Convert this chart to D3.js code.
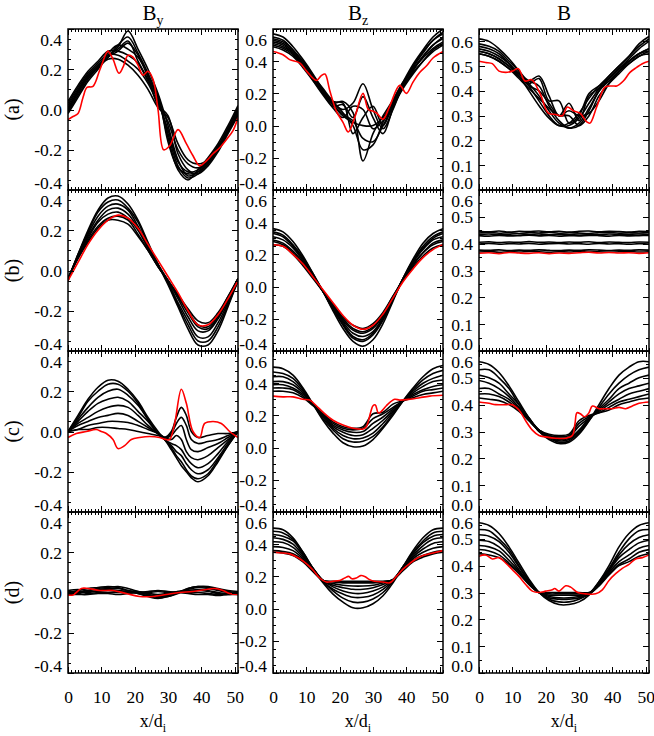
<!DOCTYPE html>
<html>
<head>
<meta charset="utf-8">
<script src="https://cdn.jsdelivr.net/npm/d3@7"></script>
<style>
  body { margin: 0; background: #fff; }
  svg text { font-family: "Liberation Serif", "Times New Roman", serif; fill: #000; }
</style>
</head>
<body>
<svg id="chart" width="654" height="736"></svg>
<script>
// x positions (in d_i) of the sampled profiles
var xGrid  = [0, 3, 6, 9, 12, 15, 18, 21, 24, 27, 30, 33, 36, 39, 42, 45, 48, 51];
var xGridC = [0, 3, 6, 9, 12, 15, 18, 21, 24, 27, 29, 31, 32.5, 34, 35.5, 37, 39, 42, 45, 48, 51];

var xTicks  = [0, 10, 20, 30, 40, 50];
var byTicks = [-0.4, -0.2, 0.0, 0.2, 0.4];
var bzTicks = [-0.4, -0.2, 0.0, 0.2, 0.4, 0.6];
var bTicks  = [0.0, 0.1, 0.2, 0.3, 0.4, 0.5, 0.6];

var colTitles = ["B", "B", "B"];
var colSubs   = ["y", "z", ""];
var rowLabels = ["(a)", "(b)", "(c)", "(d)"];

// ---- row (a) ----
var byA = [
  [0.02, 0.10, 0.17, 0.22, 0.26, 0.31, 0.39, 0.30, 0.20, 0.08, -0.08, -0.25, -0.33, -0.31, -0.26, -0.19, -0.10, 0.00],
  [0.00, 0.08, 0.16, 0.21, 0.26, 0.32, 0.36, 0.28, 0.18, 0.06, -0.12, -0.28, -0.34, -0.32, -0.27, -0.20, -0.11, -0.02],
  [0.03, 0.11, 0.18, 0.23, 0.28, 0.32, 0.30, 0.26, 0.17, 0.04, -0.10, -0.26, -0.31, -0.30, -0.25, -0.18, -0.09, 0.01],
  [-0.01, 0.07, 0.15, 0.21, 0.27, 0.27, 0.24, 0.20, 0.13, 0.03, -0.06, -0.20, -0.27, -0.29, -0.26, -0.20, -0.11, -0.03],
  [0.01, 0.09, 0.16, 0.21, 0.25, 0.25, 0.22, 0.17, 0.10, 0.01, -0.04, -0.17, -0.25, -0.27, -0.25, -0.19, -0.10, -0.01],
  [-0.02, 0.06, 0.14, 0.20, 0.26, 0.29, 0.33, 0.27, 0.16, 0.02, -0.03, -0.22, -0.30, -0.32, -0.28, -0.21, -0.12, -0.03],
  [0.04, 0.12, 0.19, 0.24, 0.29, 0.29, 0.27, 0.23, 0.14, 0.05, -0.14, -0.30, -0.35, -0.30, -0.24, -0.17, -0.08, 0.02],
  [0.00, 0.09, 0.17, 0.22, 0.27, 0.30, 0.34, 0.24, 0.15, 0.07, -0.16, -0.29, -0.32, -0.31, -0.27, -0.20, -0.10, -0.01]
];
var byARed = [[0, -0.05], [1.5, -0.035], [3, -0.02], [4.5, 0.06], [5.7, 0.11], [7.5, 0.115], [9.5, 0.195],
  [11.5, 0.28], [12, 0.29], [13.5, 0.25], [15.3, 0.18], [16.5, 0.21], [18, 0.27], [19.5, 0.26], [21, 0.22],
  [22.5, 0.17], [24, 0.19], [25.5, 0.15], [27, 0.0], [28.7, -0.2], [30.5, -0.18], [33, -0.1], [35.5, -0.17],
  [37.5, -0.23], [39.5, -0.28], [41.5, -0.255], [43.5, -0.22], [45.5, -0.19], [47.5, -0.15], [49.5, -0.105], [51, -0.04]];

var bzA = [
  [0.57, 0.55, 0.49, 0.41, 0.32, 0.22, 0.13, 0.06, 0.02, 0.00, 0.00, 0.05, 0.15, 0.27, 0.38, 0.47, 0.55, 0.60],
  [0.55, 0.53, 0.47, 0.40, 0.31, 0.22, 0.14, 0.10, 0.14, 0.26, 0.10, -0.02, 0.10, 0.25, 0.36, 0.45, 0.53, 0.58],
  [0.53, 0.51, 0.46, 0.39, 0.31, 0.23, 0.15, 0.08, 0.00, -0.15, -0.12, 0.02, 0.14, 0.26, 0.35, 0.43, 0.50, 0.55],
  [0.51, 0.49, 0.45, 0.38, 0.30, 0.22, 0.14, 0.15, 0.08, -0.22, -0.05, 0.06, 0.16, 0.27, 0.35, 0.42, 0.48, 0.52],
  [0.50, 0.48, 0.44, 0.37, 0.29, 0.21, 0.15, 0.14, -0.05, 0.05, 0.12, 0.00, 0.13, 0.24, 0.33, 0.40, 0.46, 0.50],
  [0.54, 0.52, 0.47, 0.38, 0.28, 0.19, 0.11, 0.05, 0.12, 0.10, -0.02, 0.03, 0.12, 0.25, 0.37, 0.46, 0.53, 0.57],
  [0.52, 0.50, 0.45, 0.37, 0.29, 0.20, 0.12, 0.13, 0.05, 0.18, 0.05, -0.05, 0.11, 0.24, 0.34, 0.43, 0.50, 0.54],
  [0.49, 0.47, 0.43, 0.36, 0.28, 0.20, 0.13, 0.07, 0.03, -0.08, -0.10, 0.00, 0.12, 0.23, 0.32, 0.40, 0.47, 0.51]
];
var bzARed = [[0, 0.46], [3, 0.44], [5, 0.41], [8, 0.39], [10, 0.34], [13, 0.28], [14.5, 0.31], [15.6, 0.32],
  [17, 0.22], [19, 0.09], [21, 0.02], [22.6, -0.04], [24.5, 0.05], [27, 0.2], [28.6, 0.1], [30, 0.09], [31, 0.08],
  [33, 0.04], [35, 0.12], [38, 0.25], [40, 0.2], [42, 0.27], [44, 0.33], [46, 0.37], [48, 0.42], [51, 0.46]];

var bA = [
  [0.61, 0.60, 0.57, 0.53, 0.48, 0.42, 0.36, 0.30, 0.26, 0.26, 0.29, 0.35, 0.41, 0.46, 0.50, 0.54, 0.59, 0.62],
  [0.59, 0.58, 0.56, 0.52, 0.48, 0.43, 0.38, 0.32, 0.27, 0.25, 0.27, 0.33, 0.40, 0.45, 0.49, 0.53, 0.57, 0.60],
  [0.57, 0.56, 0.54, 0.51, 0.47, 0.44, 0.46, 0.38, 0.30, 0.35, 0.28, 0.38, 0.41, 0.44, 0.48, 0.52, 0.55, 0.57],
  [0.56, 0.55, 0.53, 0.50, 0.46, 0.43, 0.45, 0.36, 0.36, 0.27, 0.30, 0.39, 0.42, 0.45, 0.49, 0.52, 0.55, 0.56],
  [0.55, 0.54, 0.52, 0.49, 0.45, 0.41, 0.37, 0.33, 0.30, 0.30, 0.26, 0.30, 0.38, 0.43, 0.47, 0.51, 0.54, 0.55],
  [0.58, 0.57, 0.55, 0.51, 0.46, 0.40, 0.34, 0.29, 0.26, 0.27, 0.31, 0.37, 0.42, 0.46, 0.50, 0.54, 0.58, 0.61],
  [0.55, 0.54, 0.52, 0.49, 0.46, 0.42, 0.40, 0.35, 0.30, 0.32, 0.30, 0.31, 0.36, 0.43, 0.48, 0.52, 0.55, 0.57],
  [0.56, 0.55, 0.53, 0.50, 0.47, 0.44, 0.42, 0.34, 0.28, 0.25, 0.26, 0.32, 0.40, 0.44, 0.48, 0.51, 0.54, 0.56]
];
var bARed = [[0, 0.52], [2, 0.515], [4, 0.51], [6, 0.48], [8, 0.475], [10, 0.48], [11.8, 0.49], [13.8, 0.44],
  [15.8, 0.445], [18.3, 0.39], [20.8, 0.31], [23, 0.305], [25, 0.3], [26.5, 0.335], [28.3, 0.32], [30.3, 0.31],
  [32.3, 0.275], [33.3, 0.27], [35.3, 0.335], [37.8, 0.415], [40, 0.42], [41.3, 0.42], [43.3, 0.44], [45.3, 0.475],
  [47.3, 0.495], [49, 0.51], [51, 0.52]];

// ---- row (b) ----
var byB = [
  [-0.05, 0.08, 0.20, 0.30, 0.36, 0.37, 0.33, 0.25, 0.14, 0.03, -0.07, -0.18, -0.29, -0.37, -0.37, -0.30, -0.18, -0.05],
  [-0.05, 0.08, 0.19, 0.29, 0.34, 0.35, 0.31, 0.24, 0.13, 0.03, -0.06, -0.17, -0.27, -0.35, -0.35, -0.28, -0.17, -0.05],
  [-0.04, 0.07, 0.18, 0.27, 0.32, 0.33, 0.30, 0.22, 0.12, 0.03, -0.06, -0.16, -0.25, -0.33, -0.33, -0.26, -0.16, -0.05],
  [-0.04, 0.07, 0.17, 0.25, 0.30, 0.31, 0.28, 0.21, 0.12, 0.03, -0.05, -0.14, -0.23, -0.30, -0.30, -0.24, -0.15, -0.05],
  [-0.04, 0.07, 0.16, 0.24, 0.28, 0.29, 0.26, 0.20, 0.11, 0.02, -0.05, -0.13, -0.21, -0.28, -0.29, -0.23, -0.14, -0.04],
  [-0.04, 0.06, 0.15, 0.22, 0.26, 0.27, 0.25, 0.18, 0.10, 0.02, -0.05, -0.12, -0.20, -0.27, -0.28, -0.22, -0.13, -0.04],
  [-0.04, 0.06, 0.14, 0.21, 0.25, 0.25, 0.23, 0.17, 0.10, 0.02, -0.05, -0.12, -0.19, -0.25, -0.26, -0.21, -0.13, -0.04]
];
var byBRed = [[0, -0.05], [3, 0.04], [6, 0.13], [9, 0.2], [12, 0.25], [15, 0.275], [18, 0.26], [21, 0.21], [24, 0.13],
  [27, 0.05], [30, -0.03], [33, -0.11], [36, -0.2], [39, -0.27], [42, -0.27], [45, -0.22], [48, -0.14], [51, -0.05]];

var bzB = [
  [0.36, 0.34, 0.28, 0.19, 0.08, -0.03, -0.15, -0.26, -0.34, -0.37, -0.33, -0.23, -0.09, 0.05, 0.17, 0.27, 0.33, 0.36],
  [0.34, 0.32, 0.26, 0.18, 0.08, -0.03, -0.14, -0.24, -0.32, -0.34, -0.30, -0.21, -0.08, 0.05, 0.16, 0.25, 0.31, 0.34],
  [0.33, 0.31, 0.25, 0.17, 0.07, -0.03, -0.14, -0.23, -0.31, -0.33, -0.29, -0.20, -0.08, 0.05, 0.16, 0.24, 0.30, 0.33],
  [0.31, 0.29, 0.24, 0.16, 0.07, -0.03, -0.13, -0.22, -0.29, -0.31, -0.28, -0.19, -0.07, 0.05, 0.15, 0.23, 0.29, 0.31],
  [0.29, 0.27, 0.22, 0.15, 0.06, -0.03, -0.12, -0.21, -0.27, -0.29, -0.26, -0.18, -0.07, 0.04, 0.14, 0.21, 0.27, 0.29],
  [0.28, 0.26, 0.21, 0.14, 0.06, -0.03, -0.12, -0.20, -0.26, -0.28, -0.25, -0.17, -0.06, 0.04, 0.13, 0.21, 0.26, 0.28],
  [0.26, 0.25, 0.20, 0.13, 0.05, -0.03, -0.11, -0.19, -0.24, -0.26, -0.23, -0.16, -0.06, 0.04, 0.12, 0.19, 0.24, 0.26]
];
var bzBRed = [[0, 0.26], [3, 0.25], [6, 0.2], [9, 0.14], [12, 0.06], [15, -0.02], [18, -0.1], [21, -0.18], [24, -0.24],
  [27, -0.265], [30, -0.24], [33, -0.17], [36, -0.07], [39, 0.03], [42, 0.11], [45, 0.18], [48, 0.23], [51, 0.26]];

var bB = [
  [0.446, 0.444, 0.447, 0.443, 0.446, 0.445, 0.447, 0.444, 0.446, 0.443, 0.446, 0.447, 0.444, 0.446, 0.445, 0.443, 0.446, 0.445],
  [0.440, 0.442, 0.439, 0.441, 0.438, 0.441, 0.440, 0.442, 0.439, 0.441, 0.440, 0.438, 0.441, 0.442, 0.439, 0.441, 0.440, 0.441],
  [0.434, 0.436, 0.433, 0.435, 0.437, 0.434, 0.436, 0.433, 0.435, 0.434, 0.436, 0.435, 0.433, 0.436, 0.434, 0.435, 0.436, 0.434],
  [0.430, 0.428, 0.431, 0.429, 0.430, 0.432, 0.429, 0.431, 0.428, 0.430, 0.429, 0.431, 0.430, 0.428, 0.431, 0.429, 0.430, 0.431],
  [0.405, 0.407, 0.404, 0.406, 0.405, 0.408, 0.405, 0.406, 0.404, 0.406, 0.405, 0.407, 0.404, 0.406, 0.405, 0.404, 0.406, 0.405],
  [0.399, 0.401, 0.398, 0.400, 0.399, 0.401, 0.398, 0.400, 0.401, 0.399, 0.400, 0.398, 0.401, 0.399, 0.400, 0.398, 0.400, 0.399],
  [0.376, 0.375, 0.377, 0.374, 0.376, 0.375, 0.377, 0.375, 0.374, 0.376, 0.375, 0.377, 0.376, 0.374, 0.376, 0.375, 0.377, 0.376],
  [0.369, 0.371, 0.368, 0.370, 0.369, 0.371, 0.370, 0.368, 0.370, 0.369, 0.371, 0.369, 0.370, 0.368, 0.370, 0.371, 0.369, 0.370]
];
var bBRed = [[0, 0.364], [3, 0.366], [6, 0.363], [9, 0.367], [12, 0.365], [15, 0.364], [18, 0.366], [21, 0.363], [24, 0.365],
  [27, 0.364], [30, 0.366], [33, 0.368], [36, 0.365], [39, 0.367], [42, 0.365], [45, 0.366], [48, 0.364], [51, 0.366]];

// ---- row (c) ----  (By on the finer xGridC)
var byC = [
  [0.00, 0.08, 0.16, 0.22, 0.255, 0.25, 0.21, 0.15, 0.07, 0.00, -0.04, -0.09, -0.13, -0.17, -0.20, -0.23, -0.25, -0.22, -0.15, -0.07, 0.00],
  [0.00, 0.07, 0.15, 0.20, 0.235, 0.235, 0.20, 0.14, 0.06, -0.01, -0.04, -0.08, -0.12, -0.15, -0.19, -0.22, -0.235, -0.21, -0.14, -0.07, 0.00],
  [0.00, 0.06, 0.12, 0.17, 0.20, 0.21, 0.18, 0.13, 0.06, -0.01, -0.04, -0.07, -0.10, -0.12, -0.16, -0.19, -0.21, -0.19, -0.13, -0.06, 0.00],
  [0.00, 0.05, 0.10, 0.14, 0.16, 0.17, 0.15, 0.10, 0.05, -0.01, -0.04, -0.06, -0.07, -0.09, -0.13, -0.16, -0.18, -0.16, -0.11, -0.05, 0.00],
  [0.00, 0.04, 0.07, 0.10, 0.12, 0.13, 0.12, 0.08, 0.03, -0.01, -0.03, -0.04, -0.02, -0.04, -0.10, -0.13, -0.14, -0.12, -0.08, -0.04, 0.00],
  [0.00, 0.03, 0.05, 0.07, 0.08, 0.09, 0.08, 0.05, 0.02, -0.01, -0.03, -0.02, 0.01, 0.03, -0.04, -0.09, -0.10, -0.08, -0.06, -0.03, 0.00],
  [0.00, 0.01, 0.03, 0.04, 0.05, 0.05, 0.045, 0.03, 0.01, -0.01, -0.03, -0.01, 0.04, 0.07, 0.03, -0.04, -0.06, -0.05, -0.04, -0.02, 0.00],
  [0.00, 0.01, 0.01, 0.02, 0.02, 0.015, 0.01, 0.00, -0.01, -0.02, -0.03, 0.00, 0.07, 0.12, 0.08, 0.00, -0.03, -0.02, -0.01, -0.01, 0.00]
];
var byCRed = [[0, -0.03], [2.5, -0.01], [5.5, 0.0], [8.5, 0.01], [10, 0.0], [11.5, -0.01], [13.5, -0.04], [15, -0.085],
  [17, -0.07], [19, -0.04], [21.5, -0.03], [24.5, -0.025], [27.5, -0.03], [29.5, -0.04], [30.5, -0.04], [32, 0.04],
  [34, 0.21], [35.5, 0.14], [37.5, 0.0], [39.5, -0.03], [41, 0.04], [43.5, 0.05], [46, 0.04], [48.5, 0.0], [51, -0.03]];

var bzC = [
  [0.50, 0.49, 0.45, 0.37, 0.27, 0.17, 0.09, 0.03, 0.005, 0.01, 0.05, 0.12, 0.20, 0.29, 0.37, 0.44, 0.49, 0.51],
  [0.47, 0.46, 0.43, 0.36, 0.27, 0.18, 0.11, 0.055, 0.035, 0.04, 0.07, 0.13, 0.21, 0.29, 0.36, 0.42, 0.46, 0.48],
  [0.44, 0.44, 0.41, 0.35, 0.27, 0.19, 0.12, 0.075, 0.055, 0.06, 0.09, 0.15, 0.22, 0.29, 0.35, 0.40, 0.43, 0.45],
  [0.41, 0.41, 0.39, 0.34, 0.27, 0.20, 0.13, 0.095, 0.075, 0.08, 0.12, 0.17, 0.23, 0.29, 0.34, 0.38, 0.41, 0.42],
  [0.39, 0.39, 0.37, 0.33, 0.27, 0.20, 0.14, 0.11, 0.095, 0.10, 0.15, 0.19, 0.24, 0.29, 0.33, 0.36, 0.38, 0.39],
  [0.37, 0.37, 0.36, 0.32, 0.27, 0.21, 0.15, 0.12, 0.11, 0.12, 0.18, 0.21, 0.25, 0.29, 0.32, 0.35, 0.36, 0.37],
  [0.35, 0.35, 0.34, 0.31, 0.26, 0.21, 0.16, 0.13, 0.12, 0.13, 0.21, 0.22, 0.27, 0.29, 0.31, 0.33, 0.34, 0.35]
];
var bzCRed = [[0, 0.32], [3, 0.315], [6, 0.315], [9, 0.3], [11, 0.295], [13, 0.26], [15, 0.22], [18, 0.17], [21, 0.14],
  [24, 0.12], [27, 0.115], [28, 0.13], [29.3, 0.22], [30, 0.26], [30.7, 0.265], [31.6, 0.215], [32.5, 0.225], [34, 0.26],
  [36.5, 0.3], [38, 0.295], [41, 0.3], [44, 0.31], [47, 0.32], [51, 0.325]];

var bC = [
  [0.56, 0.55, 0.52, 0.47, 0.41, 0.35, 0.30, 0.27, 0.255, 0.26, 0.29, 0.34, 0.40, 0.46, 0.51, 0.54, 0.56, 0.56],
  [0.53, 0.53, 0.50, 0.46, 0.40, 0.35, 0.30, 0.275, 0.26, 0.265, 0.295, 0.34, 0.39, 0.44, 0.48, 0.51, 0.53, 0.54],
  [0.51, 0.50, 0.48, 0.44, 0.40, 0.35, 0.305, 0.28, 0.265, 0.27, 0.30, 0.345, 0.385, 0.42, 0.46, 0.48, 0.50, 0.51],
  [0.49, 0.48, 0.46, 0.43, 0.39, 0.345, 0.305, 0.28, 0.27, 0.275, 0.305, 0.35, 0.38, 0.41, 0.44, 0.46, 0.47, 0.48],
  [0.46, 0.46, 0.44, 0.42, 0.385, 0.345, 0.305, 0.285, 0.275, 0.28, 0.32, 0.35, 0.375, 0.40, 0.42, 0.44, 0.45, 0.46],
  [0.44, 0.44, 0.43, 0.41, 0.38, 0.34, 0.305, 0.285, 0.28, 0.285, 0.33, 0.355, 0.37, 0.39, 0.41, 0.42, 0.43, 0.44],
  [0.425, 0.42, 0.415, 0.40, 0.375, 0.34, 0.305, 0.29, 0.285, 0.29, 0.34, 0.36, 0.37, 0.38, 0.40, 0.41, 0.42, 0.425]
];
var bCRed = [[0, 0.41], [3, 0.405], [5, 0.4], [8, 0.4], [10, 0.4], [12, 0.38], [14, 0.34], [16, 0.305], [18, 0.285],
  [20, 0.28], [23, 0.275], [26, 0.275], [28, 0.285], [28.8, 0.33], [29.4, 0.37], [30.5, 0.365], [31.7, 0.355], [33, 0.37],
  [34, 0.395], [36, 0.385], [38, 0.385], [40, 0.385], [42, 0.39], [44, 0.385], [46, 0.395], [48, 0.405], [51, 0.41]];

// ---- row (d) ----
var byD = [
  [0.00, 0.01, 0.02, 0.025, 0.03, 0.025, 0.01, -0.005, -0.02, -0.03, -0.02, 0.00, 0.02, 0.03, 0.025, 0.015, 0.005, 0.00],
  [0.01, 0.00, 0.01, 0.015, 0.02, 0.02, 0.01, 0.00, -0.01, -0.02, -0.015, 0.00, 0.015, 0.025, 0.02, 0.01, 0.00, -0.005],
  [-0.005, 0.005, 0.00, 0.01, 0.015, 0.01, 0.005, -0.005, -0.015, -0.02, -0.01, 0.005, 0.01, 0.015, 0.01, 0.00, -0.005, 0.00],
  [0.005, -0.005, 0.005, 0.005, 0.01, 0.005, 0.00, 0.00, -0.005, -0.01, -0.005, 0.00, 0.005, 0.01, 0.005, -0.005, -0.01, -0.005],
  [0.00, 0.005, -0.005, 0.00, 0.00, 0.00, 0.005, 0.005, 0.00, 0.005, 0.00, 0.005, 0.00, 0.00, -0.005, -0.01, -0.005, -0.01],
  [-0.01, -0.01, -0.01, -0.005, -0.005, -0.01, -0.005, 0.00, 0.005, 0.01, 0.005, 0.00, -0.005, -0.01, -0.01, -0.015, -0.01, -0.01],
  [0.01, 0.015, 0.01, 0.02, 0.025, 0.03, 0.02, 0.005, -0.01, -0.025, -0.02, -0.005, 0.02, 0.03, 0.03, 0.02, 0.01, 0.005]
];
var byDRed = [[0, -0.012], [1.5, -0.012], [4, 0.02], [6, 0.02], [9.5, 0.01], [13.5, 0.01], [17.5, -0.005], [21.5, -0.02],
  [25.5, -0.02], [29.5, -0.01], [33.5, 0.0], [37.5, 0.005], [41.5, 0.015], [44, 0.02], [46.5, 0.01], [48.5, -0.005], [51, -0.01]];

var bzD = [
  [0.50, 0.49, 0.44, 0.35, 0.25, 0.16, 0.09, 0.04, 0.005, 0.005, 0.03, 0.08, 0.16, 0.26, 0.36, 0.44, 0.49, 0.50],
  [0.48, 0.47, 0.43, 0.35, 0.25, 0.17, 0.11, 0.065, 0.04, 0.04, 0.06, 0.10, 0.17, 0.26, 0.35, 0.42, 0.47, 0.48],
  [0.46, 0.45, 0.42, 0.34, 0.25, 0.17, 0.12, 0.09, 0.07, 0.07, 0.085, 0.12, 0.175, 0.26, 0.34, 0.41, 0.45, 0.46],
  [0.44, 0.43, 0.40, 0.33, 0.25, 0.175, 0.135, 0.11, 0.095, 0.095, 0.11, 0.135, 0.18, 0.255, 0.33, 0.39, 0.43, 0.44],
  [0.415, 0.41, 0.38, 0.32, 0.245, 0.175, 0.145, 0.13, 0.12, 0.12, 0.13, 0.15, 0.18, 0.25, 0.32, 0.37, 0.405, 0.415],
  [0.385, 0.38, 0.36, 0.31, 0.24, 0.175, 0.155, 0.145, 0.14, 0.14, 0.145, 0.16, 0.18, 0.245, 0.31, 0.35, 0.375, 0.385],
  [0.36, 0.355, 0.34, 0.30, 0.235, 0.175, 0.165, 0.16, 0.16, 0.16, 0.16, 0.165, 0.18, 0.24, 0.30, 0.33, 0.35, 0.36],
  [0.35, 0.345, 0.33, 0.29, 0.23, 0.175, 0.17, 0.17, 0.17, 0.17, 0.17, 0.17, 0.18, 0.235, 0.29, 0.32, 0.34, 0.35]
];
var bzDRed = [[0, 0.35], [3, 0.345], [5, 0.34], [8, 0.31], [10, 0.28], [12, 0.24], [14, 0.19], [16, 0.165], [18, 0.17],
  [20, 0.175], [21.5, 0.19], [22.7, 0.2], [23.7, 0.185], [25, 0.19], [26.3, 0.205], [27.5, 0.2], [29, 0.18], [30.5, 0.17],
  [33, 0.165], [35, 0.16], [37, 0.2], [39, 0.245], [41, 0.28], [43, 0.31], [45, 0.33], [48, 0.345], [51, 0.36]];

var bD = [
  [0.56, 0.55, 0.52, 0.47, 0.41, 0.35, 0.30, 0.27, 0.255, 0.255, 0.265, 0.29, 0.34, 0.40, 0.47, 0.52, 0.55, 0.56],
  [0.535, 0.53, 0.50, 0.46, 0.40, 0.345, 0.30, 0.275, 0.265, 0.265, 0.275, 0.295, 0.34, 0.39, 0.45, 0.50, 0.53, 0.535],
  [0.515, 0.51, 0.49, 0.45, 0.395, 0.34, 0.30, 0.28, 0.275, 0.275, 0.28, 0.295, 0.335, 0.385, 0.44, 0.48, 0.505, 0.515],
  [0.495, 0.49, 0.47, 0.435, 0.385, 0.335, 0.30, 0.285, 0.28, 0.28, 0.285, 0.295, 0.33, 0.38, 0.43, 0.46, 0.485, 0.495],
  [0.475, 0.47, 0.455, 0.42, 0.38, 0.335, 0.30, 0.29, 0.29, 0.29, 0.29, 0.295, 0.33, 0.375, 0.415, 0.44, 0.465, 0.475],
  [0.46, 0.455, 0.44, 0.41, 0.375, 0.33, 0.30, 0.295, 0.295, 0.295, 0.295, 0.295, 0.325, 0.37, 0.405, 0.425, 0.45, 0.46],
  [0.445, 0.44, 0.43, 0.405, 0.37, 0.33, 0.30, 0.30, 0.30, 0.30, 0.30, 0.30, 0.325, 0.365, 0.40, 0.415, 0.435, 0.445]
];
var bDRed = [[0, 0.435], [2, 0.44], [4, 0.425], [6, 0.43], [8, 0.41], [10, 0.385], [12, 0.36], [14, 0.33], [16, 0.305],
  [18, 0.3], [20, 0.305], [22, 0.31], [22.7, 0.315], [24, 0.305], [26, 0.325], [27.5, 0.32], [29.6, 0.3], [32, 0.295],
  [35, 0.295], [37, 0.31], [39, 0.345], [41, 0.37], [43, 0.39], [45, 0.405], [47, 0.425], [49, 0.43], [51, 0.44]];

// ---- layout ----
var colLeft = [68, 273, 479];
var rowTop = [29, 190, 351, 512];
var pw = 170, ph = 161;

var panels = [
  {row: 0, col: 0, black: byA, red: byARed, grid: xGrid, domain: [-0.4, 0.4], ticks: byTicks, minor: 0.05},
  {row: 0, col: 1, black: bzA, red: bzARed, grid: xGrid, domain: [-0.4, 0.6], ticks: bzTicks, minor: 0.05},
  {row: 0, col: 2, black: bA,  red: bARed,  grid: xGrid, domain: [0, 0.65],   ticks: bTicks,  minor: 0.05},
  {row: 1, col: 0, black: byB, red: byBRed, grid: xGrid, domain: [-0.4, 0.4], ticks: byTicks, minor: 0.05},
  {row: 1, col: 1, black: bzB, red: bzBRed, grid: xGrid, domain: [-0.4, 0.6], ticks: bzTicks, minor: 0.05},
  {row: 1, col: 2, black: bB,  red: bBRed,  grid: xGrid, domain: [0, 0.6],    ticks: bTicks,  minor: 0.05},
  {row: 2, col: 0, black: byC, red: byCRed, grid: xGridC, domain: [-0.4, 0.4], ticks: byTicks, minor: 0.05},
  {row: 2, col: 1, black: bzC, red: bzCRed, grid: xGrid, domain: [-0.4, 0.6], ticks: bzTicks, minor: 0.05},
  {row: 2, col: 2, black: bC,  red: bCRed,  grid: xGrid, domain: [0, 0.6],    ticks: bTicks,  minor: 0.05},
  {row: 3, col: 0, black: byD, red: byDRed, grid: xGrid, domain: [-0.4, 0.4], ticks: byTicks, minor: 0.05},
  {row: 3, col: 1, black: bzD, red: bzDRed, grid: xGrid, domain: [-0.4, 0.6], ticks: bzTicks, minor: 0.05},
  {row: 3, col: 2, black: bD,  red: bDRed,  grid: xGrid, domain: [0, 0.6],    ticks: bTicks,  minor: 0.05}
];

var svg = d3.select("#chart");
var defs = svg.append("defs");
var fontFam = "Liberation Serif, Times New Roman, serif";

function fmtY(d) {
  var v = Math.abs(d) < 1e-9 ? 0 : d;
  return v.toFixed(1);
}

function styleAxis(g) {
  g.select(".domain").remove();
  g.selectAll(".tick line").attr("stroke", "#000").attr("stroke-width", 1).attr("shape-rendering", "crispEdges");
  g.attr("font-family", fontFam).attr("font-size", 17.5);
}

panels.forEach(function(p, n) {
  var left = colLeft[p.col], top = rowTop[p.row];
  var x = d3.scaleLinear().domain([0, 51]).range([left, left + pw]);
  var y = d3.scaleLinear().domain(p.domain).range([top + ph, top]);

  defs.append("clipPath").attr("id", "clip" + n)
    .append("rect").attr("x", left).attr("y", top).attr("width", pw).attr("height", ph);

  var line = d3.line()
    .x(function(d) { return x(d[0]); })
    .y(function(d) { return y(d[1]); })
    .curve(d3.curveCatmullRom.alpha(0.5));

  var plot = svg.append("g").attr("clip-path", "url(#clip" + n + ")");

  plot.selectAll("path.black")
    .data(p.black)
    .enter().append("path")
      .attr("class", "black")
      .attr("d", function(v) { return line(p.grid.map(function(xv, i) { return [xv, v[i]]; })); })
      .attr("fill", "none")
      .attr("stroke", "#000")
      .attr("stroke-width", 1.6);

  plot.append("path")
    .attr("d", line(p.red))
    .attr("fill", "none")
    .attr("stroke", "#f00")
    .attr("stroke-width", 1.6);

  // minor / major ticks on all four sides, pointing inward
  var xMinor = d3.range(0, 52, 1);
  var yMinor = d3.range(Math.ceil(p.domain[0] / p.minor - 1e-6), Math.floor(p.domain[1] / p.minor + 1e-6) + 1)
    .map(function(k) { return k * p.minor; });

  var isBottom = p.row === 3;

  svg.append("g").attr("transform", "translate(0," + (top + ph) + ")")
    .call(d3.axisBottom(x).tickValues(xMinor).tickSize(-3).tickFormat("")).call(styleAxis);
  svg.append("g").attr("transform", "translate(0," + top + ")")
    .call(d3.axisTop(x).tickValues(xMinor).tickSize(-3).tickFormat("")).call(styleAxis);
  svg.append("g").attr("transform", "translate(0," + top + ")")
    .call(d3.axisTop(x).tickValues(xTicks).tickSize(-6).tickFormat("")).call(styleAxis);

  var xb = svg.append("g").attr("transform", "translate(0," + (top + ph) + ")")
    .call(d3.axisBottom(x).tickValues(xTicks).tickSize(-6)
      .tickFormat(isBottom ? d3.format("d") : ""))
    .call(styleAxis);
  xb.selectAll("text").attr("y", 30).attr("dy", 0);

  svg.append("g").attr("transform", "translate(" + left + ",0)")
    .call(d3.axisLeft(y).tickValues(yMinor).tickSize(-3).tickFormat("")).call(styleAxis);
  svg.append("g").attr("transform", "translate(" + (left + pw) + ",0)")
    .call(d3.axisRight(y).tickValues(yMinor).tickSize(-3).tickFormat("")).call(styleAxis);
  svg.append("g").attr("transform", "translate(" + (left + pw) + ",0)")
    .call(d3.axisRight(y).tickValues(p.ticks).tickSize(-6).tickFormat("")).call(styleAxis);

  var yl = svg.append("g").attr("transform", "translate(" + left + ",0)")
    .call(d3.axisLeft(y).tickValues(p.ticks).tickSize(-6).tickPadding(6).tickFormat(fmtY))
    .call(styleAxis);

  // labels sitting on the panel edge are pushed inside the frame
  yl.selectAll(".tick text").each(function(d) {
    var ty = y(d);
    var t = d3.select(this);
    if (ty - top < 7) { t.attr("dy", 0).attr("y", 16); }
    else if (top + ph - ty < 7) { t.attr("dy", 0).attr("y", -2); }
    else { t.attr("dy", 0).attr("y", 6); }
  });

  // frame
  svg.append("rect")
    .attr("x", left).attr("y", top).attr("width", pw).attr("height", ph)
    .attr("fill", "none").attr("stroke", "#000").attr("stroke-width", 1.5);
});

// column titles
colTitles.forEach(function(t, i) {
  var cx = colLeft[i] + pw / 2;
  var txt = svg.append("text")
    .attr("x", cx).attr("y", 20)
    .attr("text-anchor", "middle")
    .attr("font-size", 21)
    .text(t);
  if (colSubs[i]) {
    txt.append("tspan").attr("font-size", 14).attr("dy", 5).text(colSubs[i]);
  }
});

// row labels
rowLabels.forEach(function(t, i) {
  svg.append("text")
    .attr("transform", "translate(12," + (rowTop[i] + ph / 2) + ") rotate(-90)")
    .attr("text-anchor", "middle")
    .attr("dy", "0.35em")
    .attr("font-size", 20)
    .text(t);
});

// x axis titles
colLeft.forEach(function(l) {
  var txt = svg.append("text")
    .attr("x", l + pw / 2).attr("y", 727)
    .attr("text-anchor", "middle")
    .attr("font-size", 18)
    .text("x/d");
  txt.append("tspan").attr("font-size", 12).attr("dy", 5).text("i");
});
</script>
</body>
</html>
